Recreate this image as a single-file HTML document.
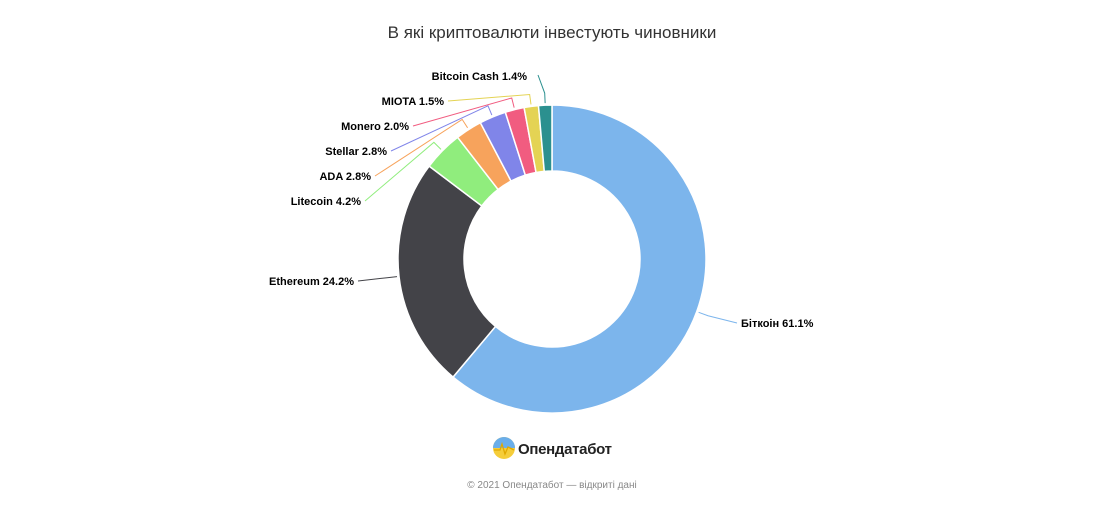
<!DOCTYPE html>
<html><head><meta charset="utf-8"><style>
body{margin:0;background:#fff;width:1108px;height:504px;overflow:hidden;font-family:"Liberation Sans","DejaVu Sans",sans-serif}
</style></head><body>
<svg id="s" width="1108" height="504" xmlns="http://www.w3.org/2000/svg">
<text x="552" y="38" text-anchor="middle" font-size="17" fill="#333" font-family="Liberation Sans, DejaVu Sans, sans-serif">В які криптовалюти інвестують чиновники</text>
<g id="g"></g>
<circle cx="504" cy="448" r="11" fill="#f5cd3a"/>
<path d="M493,448 A11,11 0 0 1 515,448 Z" fill="#6aaeea"/>
<path d="M494,450 L500,450 L502,444 L505,454 L508,447 L514,450" stroke="#e0a800" stroke-width="1.3" fill="none"/>
<text x="518" y="454" font-size="15" font-weight="bold" fill="#222" textLength="94" font-family="Liberation Sans, DejaVu Sans, sans-serif">Опендатабот</text>
<text x="552" y="488" text-anchor="middle" font-size="10" fill="#888" font-family="Liberation Sans, DejaVu Sans, sans-serif">© 2021 Опендатабот — відкриті дані</text>
</svg>
<script>
var cx=552,cy=259,R=154,r=88;
var d=[["Біткоін",61.1,"#7cb5ec",741,327,"start"],["Ethereum",24.2,"#434348",354,285,"end"],["Litecoin",4.2,"#90ed7d",361,205,"end"],["ADA",2.8,"#f7a35c",371,180,"end"],["Stellar",2.8,"#8085e9",387,155,"end"],["Monero",2.0,"#f15c80",409,130,"end"],["MIOTA",1.5,"#e4d354",444,105,"end"],["Bitcoin Cash",1.4,"#2b908f",527,80,"end"]];
var g=document.getElementById("g"),h="",a=0;
function P(rr,t){return [cx+rr*Math.sin(t),cy-rr*Math.cos(t)];}
d.forEach(function(s){var t0=a*Math.PI/50,t1=(a+s[1])*Math.PI/50;a+=s[1];
var p1=P(R,t0),p2=P(R,t1),p3=P(r,t1),p4=P(r,t0),L=(t1-t0)>Math.PI?1:0;
h+='<path d="M'+p1+' A'+R+','+R+' 0 '+L+' 1 '+p2+' L'+p3+' A'+r+','+r+' 0 '+L+' 0 '+p4+' Z" fill="'+s[2]+'" stroke="#fff" stroke-width="1.5"/>';
var tm=(t0+t1)/2,q=P(R+2,tm),q2=P(R+12,tm);
var lx=s[5]=="start"?s[3]-4:s[3]+4,ly=s[4]-4;
if(s[0]=="Bitcoin Cash"){lx=538;ly=75;}
h+='<path d="M'+q+' L'+q2+' L'+lx+','+ly+'" stroke="'+s[2]+'" fill="none" stroke-width="1"/>';
h+='<text x="'+s[3]+'" y="'+s[4]+'" text-anchor="'+s[5]+'" font-size="11" font-weight="bold" fill="#000">'+s[0]+' '+s[1].toFixed(1)+'%</text>';});
g.innerHTML=h;
</script>
</body></html>
